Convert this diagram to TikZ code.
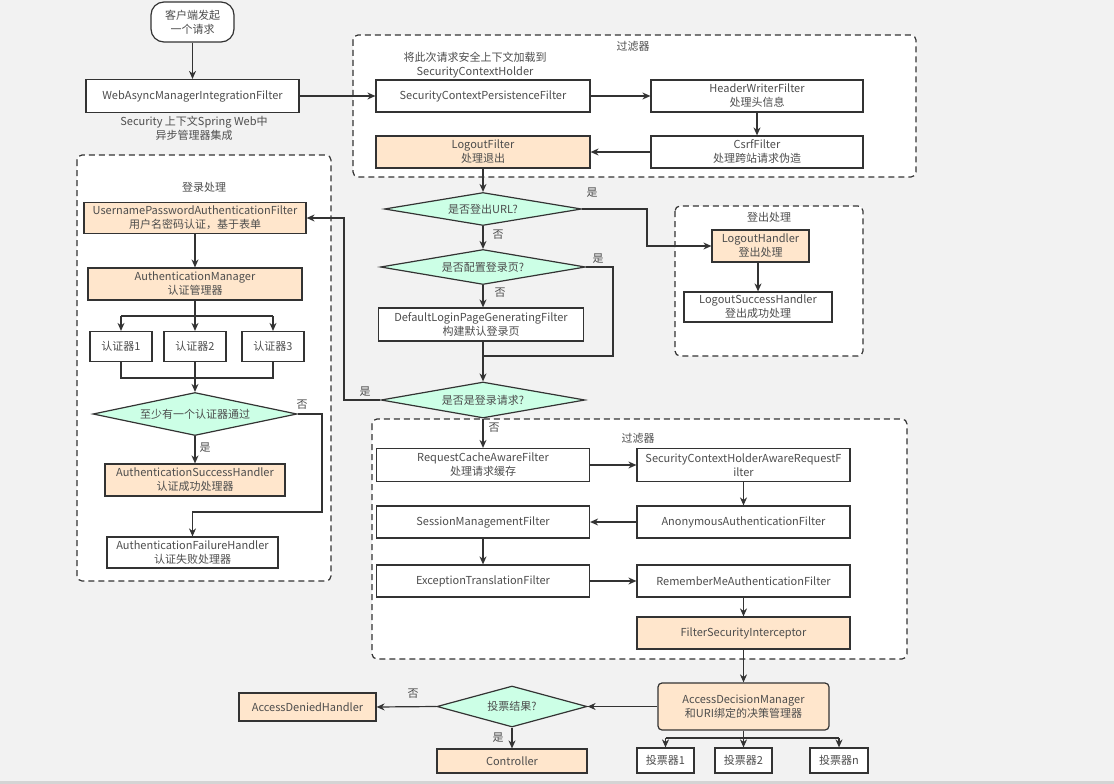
\documentclass[tikz,border=0pt]{standalone}
\usepackage{fontspec}
\setmainfont{Noto Sans CJK SC}
\usetikzlibrary{arrows.meta,shapes.geometric}
\definecolor{bg}{HTML}{F2F2F2}
\definecolor{ln}{HTML}{333333}
\definecolor{tx}{HTML}{4D4D4D}
\definecolor{org}{HTML}{FFE6CC}
\definecolor{mint}{HTML}{CCFFE6}
\tikzset{
  box/.style={draw=ln, line width=1.2pt, fill=white, text=tx, align=center, inner sep=0pt,
    font=\fontsize{11}{14}\selectfont},
  obox/.style={box, fill=org},
  dia/.style={diamond, draw=ln, line width=1.2pt, fill=mint, text=tx, align=center, inner sep=0pt,
    font=\fontsize{11}{14}\selectfont},
  grp/.style={draw=ln, line width=1.2pt, dash pattern=on 6pt off 4pt, fill=white, rounded corners=5pt},
  lbl/.style={text=tx, align=center, inner sep=0pt, font=\fontsize{11}{14}\selectfont},
  conn/.style={draw=ln, line width=1.2pt},
  arr/.style={conn, -{Stealth[length=8pt,width=7pt]}},
}
\begin{document}
\begin{tikzpicture}[x=1pt,y=-1pt]
\fill[bg] (0,0) rectangle (1114,784);
\useasboundingbox (0,0) rectangle (1114,784);
\fill[black!17] (0,781) rectangle (1114,784);

% groups
\draw[grp] (353,35) rectangle (916,177);
\draw[grp] (77,155) rectangle (331,581);
\draw[grp] (675,206) rectangle (863,356);
\draw[grp] (372,419) rectangle (907,659);
\node[lbl] (t1) at (633,46) {过滤器};
\node[lbl] (t2) at (204,187) {登录处理};
\node[lbl] (t3) at (769,217) {登出处理};
\node[lbl] (t4) at (638,438) {过滤器};

% top
\node[box, rounded corners=13pt, minimum width=83pt, minimum height=40pt] (start) at (192.5,22) {客户端发起\\一个请求};
\node[box, minimum width=213pt, minimum height=33pt] (web) at (192.5,96) {WebAsyncManagerIntegrationFilter};
\node[lbl] (weblbl) at (194,128) {Security 上下文Spring Web中\\异步管理器集成};
\node[lbl] (scpflbl) at (475,65) {将此次请求安全上下文加载到\\SecurityContextHolder};
\node[box, minimum width=214pt, minimum height=32pt] (scpf) at (483,96) {SecurityContextPersistenceFilter};
\node[box, minimum width=212pt, minimum height=32pt] (hwf) at (757,96) {HeaderWriterFilter\\处理头信息};
\node[box, minimum width=212pt, minimum height=32pt] (csrf) at (757,152) {CsrfFilter\\处理跨站请求伪造};
\node[obox, minimum width=214pt, minimum height=32pt] (logout) at (483,152) {LogoutFilter\\处理退出};

% login group
\node[obox, minimum width=222pt, minimum height=31pt] (upaf) at (195,218) {UsernamePasswordAuthenticationFilter\\用户名密码认证，基于表单};
\node[obox, minimum width=214pt, minimum height=32pt] (am) at (195,284) {AuthenticationManager\\认证管理器};
\node[box, minimum width=62pt, minimum height=30pt] (a1) at (121,346.5) {认证器1};
\node[box, minimum width=62pt, minimum height=30pt] (a2) at (195,346.5) {认证器2};
\node[box, minimum width=62pt, minimum height=30pt] (a3) at (273,346.5) {认证器3};
\node[dia, aspect=4.7, minimum width=204pt, minimum height=43pt] (d0) at (195,414) {至少有一个认证器通过};
\node[obox, minimum width=180pt, minimum height=32pt] (succ) at (195,480) {AuthenticationSuccessHandler\\认证成功处理器};
\node[box, minimum width=171pt, minimum height=31pt] (fail) at (192.5,552.5) {AuthenticationFailureHandler\\认证失败处理器};

% middle
\node[dia, aspect=6, minimum width=197pt, minimum height=33pt] (d1) at (483,209) {是否登出URL?};
\node[dia, aspect=5.9, minimum width=205pt, minimum height=35pt] (d2) at (483,267) {是否配置登录页?};
\node[box, minimum width=205pt, minimum height=33pt] (dlpg) at (481,324.5) {DefaultLoginPageGeneratingFilter\\构建默认登录页};
\node[dia, aspect=5.7, minimum width=204pt, minimum height=36pt] (d3) at (483,400) {是否是登录请求?};

% logout group
\node[obox, minimum width=97pt, minimum height=32pt] (lh) at (760.5,246) {LogoutHandler\\登出处理};
\node[box, minimum width=148pt, minimum height=30pt] (lsh) at (758,307) {LogoutSuccessHandler\\登出成功处理};

% lower filters
\node[box, minimum width=213pt, minimum height=33pt] (rcaf) at (483,465) {RequestCacheAwareFilter\\处理请求缓存};
\node[box, minimum width=213pt, minimum height=33pt] (schar) at (743.5,465) {SecurityContextHolderAwareRequestF\\ilter};
\node[box, minimum width=213pt, minimum height=32pt] (anon) at (743.5,522) {AnonymousAuthenticationFilter};
\node[box, minimum width=213pt, minimum height=32pt] (smf) at (483,522) {SessionManagementFilter};
\node[box, minimum width=213pt, minimum height=32pt] (etf) at (483,581) {ExceptionTranslationFilter};
\node[box, minimum width=213pt, minimum height=32pt] (rmaf) at (743.5,581) {RememberMeAuthenticationFilter};
\node[obox, minimum width=213pt, minimum height=32pt] (fsi) at (743.5,633) {FilterSecurityInterceptor};

% bottom
\node[obox, rounded corners=4pt, minimum width=171pt, minimum height=47pt] (adm) at (743.5,706.5) {AccessDecisionManager\\和URI绑定的决策管理器};
\node[dia, aspect=3.7, minimum width=150pt, minimum height=41pt] (d4) at (512,706.5) {投票结果?};
\node[obox, minimum width=137pt, minimum height=28pt] (adh) at (307.5,707) {AccessDeniedHandler};
\node[obox, minimum width=150pt, minimum height=24pt] (ctrl) at (512,761) {Controller};
\node[box, minimum width=57pt, minimum height=25pt] (v1) at (665.5,760.5) {投票器1};
\node[box, minimum width=57pt, minimum height=25pt] (v2) at (743.5,760.5) {投票器2};
\node[box, minimum width=58pt, minimum height=25pt] (vn) at (839,760.5) {投票器n};

% yes/no labels
\node[lbl] (l1) at (592,193) {是};
\node[lbl] (l2) at (498,235) {否};
\node[lbl] (l3) at (598,259) {是};
\node[lbl] (l4) at (500,293) {否};
\node[lbl] (l5) at (365,392) {是};
\node[lbl] (l6) at (494,428) {否};
\node[lbl] (l7) at (205,448) {是};
\node[lbl] (l8) at (302,405) {否};
\node[lbl] (l9) at (413,694) {否};
\node[lbl] (l10) at (498,738) {是};

% coordinates
\coordinate (c1) at (647,209);
\coordinate (c2) at (613,356);
\coordinate (c3) at (483,356);
\coordinate (c4) at (344,400);
\coordinate (amb) at (195,316);
\coordinate (amL) at (121,316);
\coordinate (amR) at (273,316);
\coordinate (aj1) at (121,378);
\coordinate (aj3) at (273,378);
\coordinate (aj2) at (195,378);
\coordinate (f1) at (322,414);
\coordinate (f2) at (322,512);
\coordinate (f3) at (192.5,512);
\coordinate (vb) at (743.5,738);
\coordinate (vL) at (665.5,738);
\coordinate (vR) at (839,738);

% connectors
\draw[arr] (start) -- (web);
\draw[arr] (web) -- (scpf);
\draw[arr] (scpf) -- (hwf);
\draw[arr] (hwf) -- (csrf);
\draw[arr] (csrf) -- (logout);
\draw[arr] (logout) -- (d1);
\draw[arr] (d1.east) -- (c1) |- (lh.west);
\draw[arr] (d1) -- (d2);
\draw[arr] (d2.south) -- (dlpg.north -| d2.south);
\draw[conn] (d2.east) -| (c2) -- (c3);
\draw[arr] (dlpg.south -| d3.north) -- (d3.north);
\draw[arr] (d3.west) -- (c4) |- (upaf.east);
\draw[arr] (d3) -- (rcaf);
\draw[arr] (upaf) -- (am);
\draw[conn] (am.south) -- (amb);
\draw[conn] (amL) -- (amR);
\draw[arr] (amL) -- (a1.north);
\draw[arr] (amb) -- (a2.north);
\draw[arr] (amR) -- (a3.north);
\draw[conn] (a1.south) -- (aj1) -- (aj3) -- (a3.south);
\draw[conn] (a2.south) -- (aj2);
\draw[arr] (aj2) -- (d0.north);
\draw[arr] (d0) -- (succ);
\draw[arr] (d0.east) -- (f1) -- (f2) -- (f3) -- (fail.north);
\draw[arr] (lh.south -| lsh.north) -- (lsh.north);
\draw[arr] (rcaf) -- (schar);
\draw[arr] (schar) -- (anon);
\draw[arr] (anon) -- (smf);
\draw[arr] (smf) -- (etf);
\draw[arr] (etf) -- (rmaf);
\draw[arr] (rmaf) -- (fsi);
\draw[arr] (fsi) -- (adm);
\draw[arr] (adm.west) -- (d4.east);
\draw[arr] (d4.west) -- (adh.east);
\draw[arr] (d4) -- (ctrl);
\draw[conn] (adm.south) -- (vb);
\draw[conn] (vL) -- (vR);
\draw[arr] (vL) -- (v1.north);
\draw[arr] (vb) -- (v2.north);
\draw[arr] (vR) -- (vn.north);
\end{tikzpicture}
\end{document}
